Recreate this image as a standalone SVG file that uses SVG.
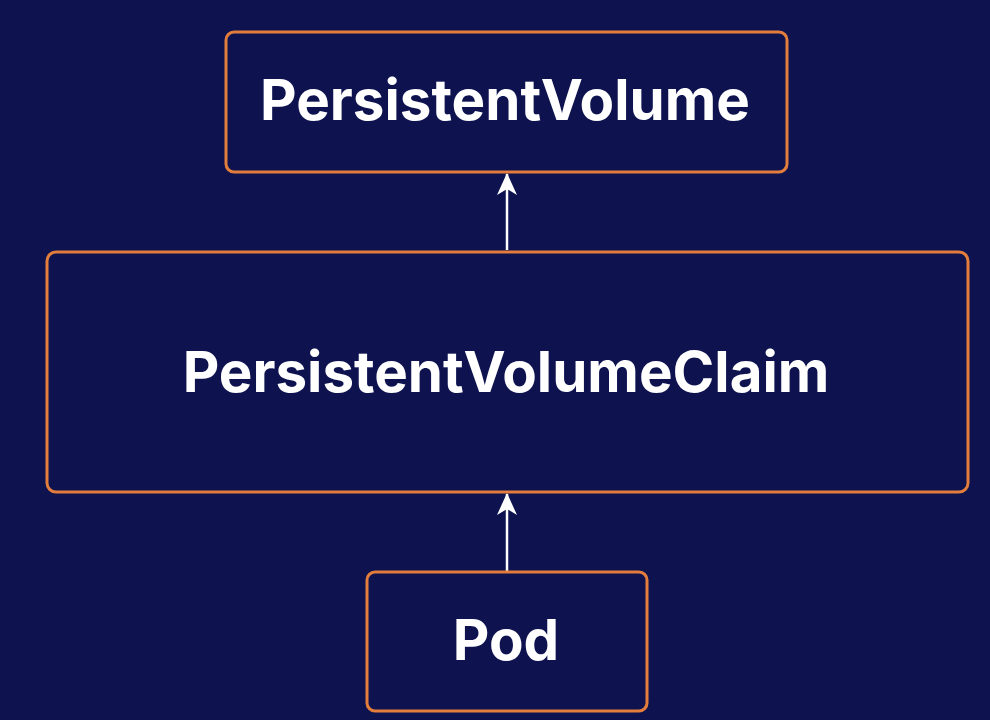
<svg xmlns="http://www.w3.org/2000/svg" width="990" height="720" viewBox="0 0 990 720">
<defs>
<style>
.box{fill:#0e1350;stroke:#e27d3c;stroke-width:3}
.lbl{font-family:Inter,"Liberation Sans",sans-serif;font-weight:700;fill:#ffffff;text-anchor:middle}
.conn{stroke:#ffffff;stroke-width:2.5;fill:none}
</style>
<marker id="ah" markerWidth="22" markerHeight="22" viewBox="0 0 22 22" refX="21" refY="11" orient="auto" markerUnits="userSpaceOnUse">
<path d="M0,1 L22,11 L0,21 L6,11 Z" fill="#ffffff"/>
</marker>
</defs>
<rect width="990" height="720" fill="#0e1350"/>
<g id="connectors">
<line class="conn" x1="507" y1="250" x2="507" y2="174" marker-end="url(#ah)"/>
<line class="conn" x1="507" y1="571" x2="507" y2="494" marker-end="url(#ah)"/>
</g>
<g id="pv">
<rect class="box" x="226" y="32" width="561" height="140" rx="8"/>
<text class="lbl" x="505" y="120" font-size="56.5">PersistentVolume</text>
</g>
<g id="pvc">
<rect class="box" x="47" y="252" width="921" height="240" rx="9"/>
<text class="lbl" x="506" y="392" font-size="56.5">PersistentVolumeClaim</text>
</g>
<g id="pod">
<rect class="box" x="367" y="572" width="280" height="139" rx="8"/>
<text class="lbl" x="506" y="660" font-size="56.5">Pod</text>
</g>
</svg>
